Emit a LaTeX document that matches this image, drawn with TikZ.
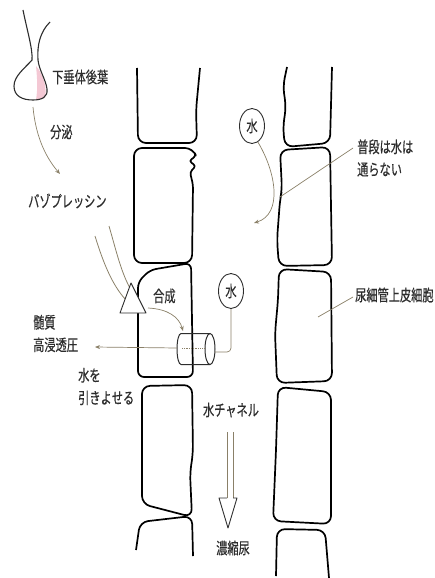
\documentclass[tikz,border=0pt]{standalone}
\usepackage{fontspec}
\newfontfamily\jp[FakeStretch=0.7, FakeBold=0.4]{Noto Sans CJK JP}
\usepackage{tikz}
\usetikzlibrary{arrows.meta}
\usetikzlibrary{shapes.geometric}
\definecolor{ink}{RGB}{45,45,45}
\definecolor{leadbrown}{RGB}{138,128,104}
\definecolor{lobepink}{RGB}{244,200,212}
\tikzset{
    lbl/.style={font=\jp\fontsize{16}{22.5}\selectfont, text=ink, inner sep=0pt},
    cell/.style={draw=black, line width=1.7pt, rounded corners=8pt, line join=round},
    link/.style={draw=leadbrown, line width=0.7pt},
    arrowlink/.style={link, -{Stealth[length=5pt, width=4pt]}},
    hollow/.style={draw=leadbrown, line width=0.8pt},
    hollowhead/.style={draw=ink, fill=white, line width=0.9pt, line join=round},
    water/.style={lbl, draw=ink, line width=0.9pt, ellipse, minimum width=25pt, minimum height=35pt}
}

\begin{document}
\begin{tikzpicture}[x=1pt, y=-1pt]
    \useasboundingbox (0,0) rectangle (434,578);

    % posterior lobe
    \fill[lobepink] (36,66) .. controls (44,75) and (47,88) .. (45,98) -- (36,100) .. controls (38,88) and (37,76) .. cycle;
    \draw[ink, line width=1.1pt] (23,10) .. controls (27,30) and (33,50) .. (32,60)
        .. controls (25,68) and (14,76) .. (14,86) .. controls (14,96) and (22,100) .. (33,100)
        .. controls (42,100) and (48,97) .. (47,89) .. controls (46,80) and (39,70) .. (38,60)
        .. controls (37,45) and (40,32) .. (50,22);

    % tubule cells, left row
    \draw[cell] (137,68) -- (138,143) -- (197,143) -- (196,110) -- (200,68);
    \draw[cell] (134,200) -- (134,148) -- (193,148) [rounded corners=3pt] -- (196,156) -- (189,161) -- (196,166) -- (190,172) -- (193,185) [rounded corners=8pt] -- (192,263) -- (134,263) -- cycle;
    \draw[cell, rounded corners=6pt] (138,330) -- (138,282) -- (150,270) -- (191,263) -- (193,377) -- (138,377) -- cycle;
    \draw[cell] (142,450) -- (142,386) -- (192,385) -- (193,453) -- (190,473) -- (192,517) -- (142,504) -- cycle;
    \draw[cell] (136,550) -- (140,522) -- (192,516) -- (193,556);

    % tubule cells, right row
    \draw[cell] (287,67) -- (283,86) -- (286,107) -- (283,127) -- (285,147) -- (330,143) -- (332,67);
    \draw[cell] (280,200) -- (282,190) -- (280,150) -- (330,147) -- (332,265) -- (279,266) -- (277,240) -- cycle;
    \draw[cell] (278,300) -- (279,269) -- (331,272) -- (332,381) -- (277,383) -- (275,333) -- cycle;
    \draw[cell] (276,450) -- (278,387) -- (331,392) -- (331,524) -- (273,521) -- cycle;
    \draw[cell] (276,576) -- (277,529) -- (325,530) -- (329,578);

    \node[lbl, anchor=west] (lobe) at (52,77) {下垂体後葉};
    \node[lbl, anchor=west] (secr) at (50,132) {分泌};
    \node[lbl, anchor=west] (vaso) at (28,201) {バゾプレッシン};
    \node[lbl, anchor=west] (synth) at (153,296) {合成};
    \node[lbl, anchor=west, align=left] (medulla) at (33,333.5) {髄質\\高浸透圧};
    \node[lbl, anchor=west, align=left] (pull) at (78,386.5) {水を\\引きよせる};
    \node[lbl, anchor=west, align=left] (rare) at (357,158) {普段は水は\\通らない};
    \node[lbl, anchor=west] (epi) at (355,295) {尿細管上皮細胞};
    \node[lbl] (chan) at (231,410) {水チャネル};
    \node[lbl] (conc) at (233,548) {濃縮尿};
    \node[water] (wtop) at (252,126) {水};
    \node[water] (wbot) at (231,291) {水};

    \coordinate (lobetip) at (33,107);
    \coordinate (secrend) at (60,174);
    \coordinate (wtopend) at (254,223);
    \coordinate (rareend) at (280,197);
    \coordinate (epiend) at (318,317);
    \coordinate (synthfrom) at (148,308);
    \coordinate (aqptop) at (183,331);
    \coordinate (aqpleft) at (177,348);
    \coordinate (aqpright) at (215,352);
    \coordinate (osmo) at (95,347);

    \draw[arrowlink] (lobetip) .. controls (36,140) and (48,160) .. (secrend);
    \draw[arrowlink] (wtop.-70) .. controls (276,172) and (283,214) .. (wtopend);
    \draw[link] ([xshift=-4pt, yshift=10pt]rare.west) -- (rareend);
    \draw[link] ([xshift=-2pt, yshift=-2pt]epi.west) -- (epiend);
    \draw[arrowlink] (synthfrom) .. controls (168,309) and (179,317) .. (aqptop);

    % water channel
    \draw[ink, line width=1pt] (210,333.5) -- (181,333.5) arc[start angle=270, end angle=90, x radius=4, y radius=15.5] -- (210,364.5);
    \draw[ink, line width=1pt] (210,349) ellipse[x radius=5, y radius=15.5];
    \draw[leadbrown, densely dotted, line width=0.8pt] (182,348) -- (205,348);
    \draw[arrowlink] (aqpleft) -- (osmo);
    \draw[link, rounded corners=4pt] (wbot.south) |- (aqpright);

    % open arrows
    \draw[hollow] (95,236) .. controls (103,262) and (112,285) .. (126,300);
    \draw[hollow] (109,226) .. controls (116,250) and (121,272) .. (130,288);
    \draw[hollowhead] (131,283) -- (120,313) -- (146,313) -- cycle;
    \draw[hollow] (227,432) -- (227,498);
    \draw[hollow] (233,432) -- (233,498);
    \draw[hollowhead] (227,498) -- (219,498) -- (228,528) -- (237,498) -- (233,498);
\end{tikzpicture}
\end{document}
